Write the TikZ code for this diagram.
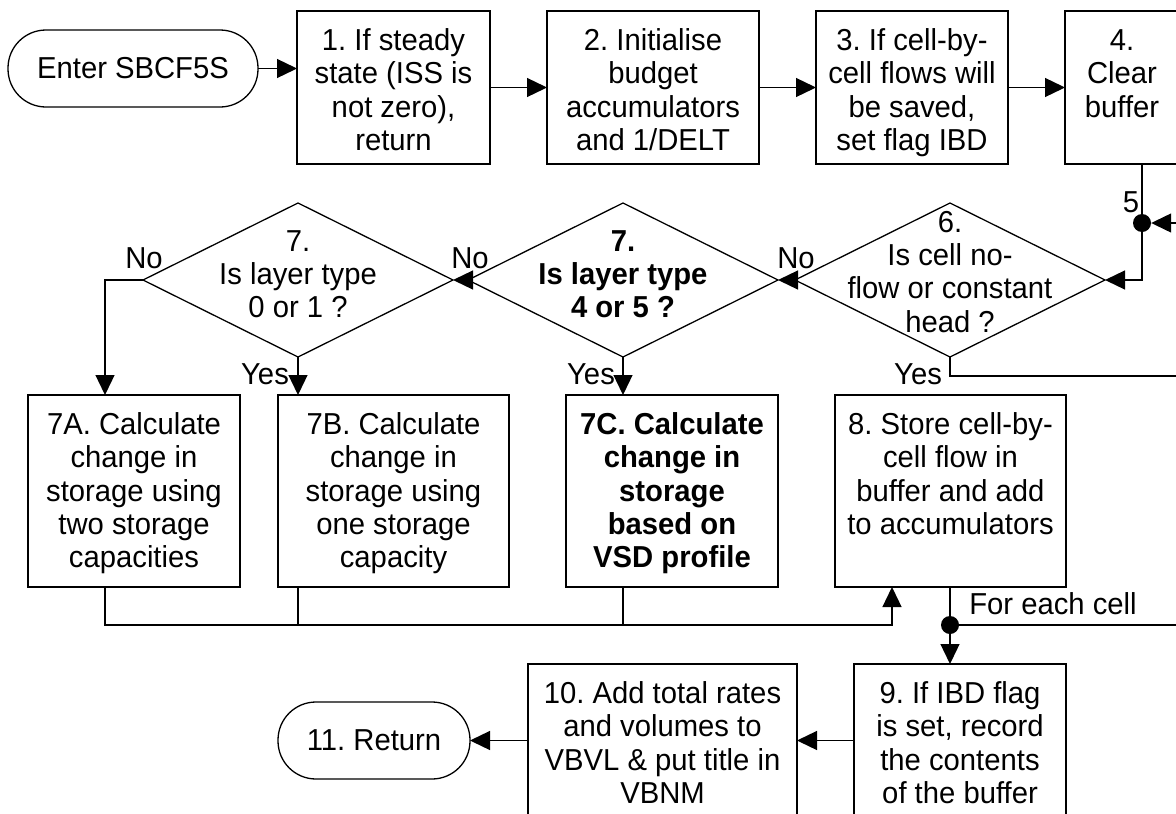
\documentclass[tikz,border=0pt]{standalone}
\usepackage{fontspec}
\setmainfont{Liberation Sans}[FakeStretch=0.965]
\usetikzlibrary{shapes.geometric,arrows.meta,calc}
\newcommand{\bx}[3]{\parbox[c][#2pt][t]{#1pt}{\centering\rule{0pt}{39.3pt}#3}}
\newcommand{\fnt}{\fontsize{30.3}{33.4}\selectfont\frenchspacing}
\tikzset{
  ln/.style={line width=1.3pt},
  arr/.style={ln,-{Triangle[length=20pt,width=19pt]}},
  box/.style={draw,ln,inner sep=0pt,outer sep=0pt,font=\fnt},
  term/.style={draw,ln,rounded corners=38pt,inner sep=0pt,outer sep=0pt,font=\fnt},
  dia/.style={draw,ln,diamond,inner sep=0pt,outer sep=0pt,minimum width=310pt,minimum height=154pt},
  txt/.style={font=\fnt,align=center,inner sep=0pt,execute at begin node=\strut,execute at end node=\strut},
  txtb/.style={txt,font=\fnt\bfseries},
  lab/.style={font=\fnt,inner sep=0pt},
  dot/.style={circle,fill,inner sep=0pt,minimum size=18pt},
}
\begin{document}
\begin{tikzpicture}[x=1pt,y=-1pt]
\useasboundingbox (0,0) rectangle (1176,814);
\clip (0,0) rectangle (1176,814);
% terminals
\node[term,minimum width=250pt,minimum height=77pt] (start) at (133,68.5) {Enter SBCF5S};
\node[term,minimum width=192pt,minimum height=77pt] (end) at (374,740.5) {11. Return};
% row 1
\node[box] (b1) at (393.5,87.5) {\bx{193}{153}{1. If steady\\state (ISS is\\not zero),\\return}};
\node[box] (b2) at (653,87.5) {\bx{212}{153}{2. Initialise\\budget\\accumulators\\and 1/DELT}};
\node[box] (b3) at (912,87.5) {\bx{192}{153}{3. If cell-by-\\cell flows will\\be saved,\\set flag IBD}};
\node[box] (b4) at (1122,87.5) {\bx{114}{153}{4.\\Clear\\buffer}};
% diamonds
\node[dia] (d6) at (950,280) {};
\node[dia] (d7b) at (623,280) {};
\node[dia] (d7a) at (298,280) {};
\node[txt] (t6) at (950,276.6) {6.\\Is cell no-\\flow or constant\\head ?};
\node[txtb] (t7b) at (623,279) {7.\\Is layer type\\4 or 5 ?};
\node[txt] (t7a) at (298,279) {7.\\Is layer type\\0 or 1 ?};
% row 2
\node[box] (b7a) at (134,491) {\bx{212}{192}{7A. Calculate\\change in\\storage using\\two storage\\capacities}};
\node[box] (b7b) at (393.5,491) {\bx{231}{192}{7B. Calculate\\change in\\storage using\\one storage\\capacity}};
\node[box] (b7c) at (672,491) {\bx{212}{192}{\bfseries 7C. Calculate\\change in\\storage\\based on\\VSD profile}};
\node[box] (b8) at (950.5,491) {\bx{231}{192}{8. Store cell-by-\\cell flow in\\buffer and add\\to accumulators}};
% row 3
\node[box] (b10) at (662.5,740.5) {\bx{269}{153}{10. Add total rates\\and volumes to\\VBVL \& put title in\\VBNM}};
\node[box] (b9) at (960,740.5) {\bx{212}{153}{9. If IBD flag\\is set, record\\the contents\\of the buffer}};
% junctions and coordinates
\node[dot] (j5) at (1142,223) {};
\node[dot] (j8) at (950,625) {};
\coordinate (r5) at (1180,223);
\coordinate (r6) at (1180,376);
\coordinate (r8) at (1180,625);
\coordinate (k7a) at (105,395);
\coordinate (k8) at (892,587);
\coordinate (bus) at (105,625);
% connectors
\draw[arr] (start.east) -- (start.east -| b1.west);
\draw[arr] (b1.east) -- (b2.west);
\draw[arr] (b2.east) -- (b3.west);
\draw[arr] (b3.east) -- (b4.west);
\draw[arr] (b4.south -| j5) |- (d6.east);
\draw[arr] (r5) -- (j5.east);
\draw[arr] (d6.west) -- (d7b.east);
\draw[arr] (d7b.west) -- (d7a.east);
\draw[arr] (d7a.west) -| (k7a);
\draw[arr] (d7a.south) -- (d7a.south |- b7b.north);
\draw[arr] (d7b.south) -- (d7b.south |- b7c.north);
\draw[ln] (d6.south) |- (r6);
\draw[arr] (b7a.south -| bus) -- (bus) -| (k8);
\draw[ln] (b7b.south -| d7a.south) -- (bus -| d7a.south);
\draw[ln] (b7c.south -| d7b.south) -- (bus -| d7b.south);
\draw[ln] (b8.south -| j8) -- (j8);
\draw[arr] (j8) -- (j8 |- b9.north);
\draw[ln] (j8) -- (r8);
\draw[arr] (b9.west) -- (b10.east);
\draw[arr] (b10.west) -- (end.east);
% labels
\node[lab] (l5) at (1131,202) {5};
\node[lab] (n7a) at (144,258) {No};
\node[lab] (n7b) at (470,258) {No};
\node[lab] (n6) at (796,258) {No};
\node[lab] (y7a) at (265,374) {Yes};
\node[lab] (y7b) at (591,374) {Yes};
\node[lab] (y6) at (918,374) {Yes};
\node[lab] (fec) at (1053,604) {For each cell};
\end{tikzpicture}
\end{document}
